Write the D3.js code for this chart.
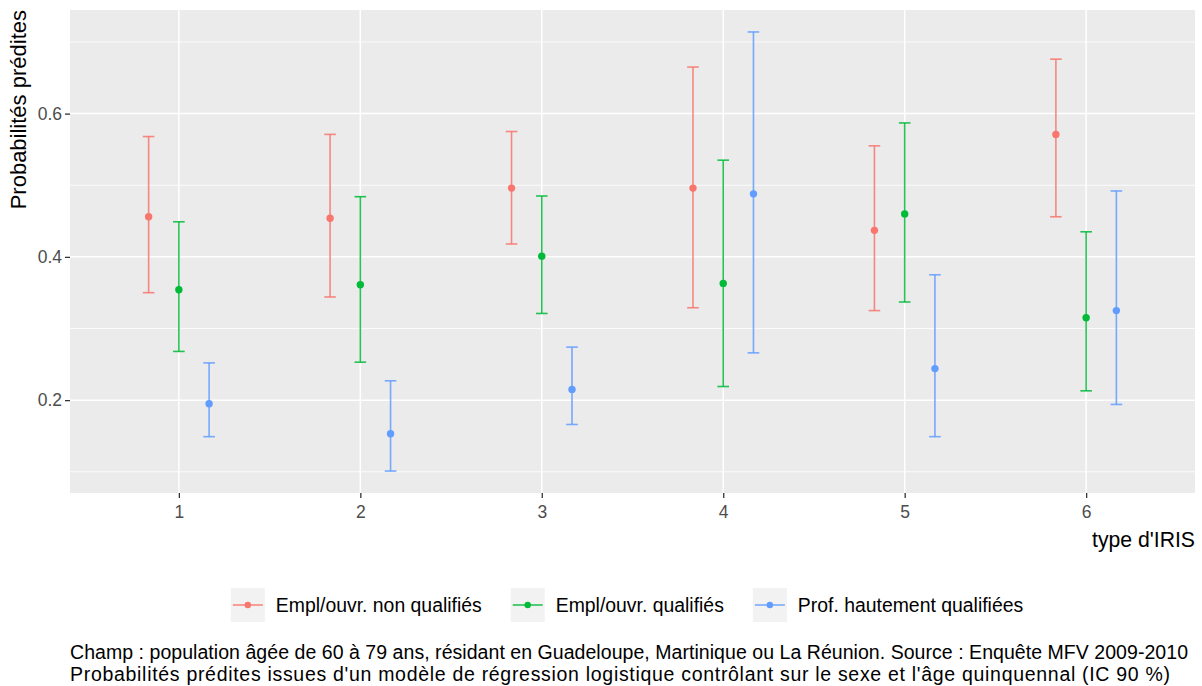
<!DOCTYPE html>
<html>
<head>
<meta charset="utf-8">
<script src="https://cdn.jsdelivr.net/npm/d3@7"></script>
<style>
  html, body { margin: 0; padding: 0; background: #fff; }
  svg { display: block; font-family: "Liberation Sans", Arial, sans-serif; }
</style>
</head>
<body>
<svg id="chart" width="1202" height="686"></svg>
<script>
// ---- data ----
const categories = ["1", "2", "3", "4", "5", "6"];
const groups = ["Empl/ouvr. non qualifiés", "Empl/ouvr. qualifiés", "Prof. hautement qualifiées"];
const colors = ["#F8766D", "#00BA38", "#619CFF"];

const nonQualEst = [0.456, 0.454, 0.496, 0.496, 0.437, 0.571];
const nonQualLo  = [0.350, 0.344, 0.418, 0.329, 0.325, 0.456];
const nonQualHi  = [0.568, 0.571, 0.575, 0.665, 0.555, 0.676];

const qualEst = [0.354, 0.361, 0.401, 0.363, 0.460, 0.315];
const qualLo  = [0.268, 0.253, 0.321, 0.219, 0.337, 0.213];
const qualHi  = [0.449, 0.484, 0.485, 0.535, 0.587, 0.435];

const hautEst = [0.195, 0.153, 0.215, 0.488, 0.244, 0.325];
const hautLo  = [0.149, 0.101, 0.166, 0.266, 0.149, 0.194];
const hautHi  = [0.252, 0.227, 0.274, 0.714, 0.375, 0.492];

const yTicks = [0.2, 0.4, 0.6];
const yMinor = [0.1, 0.3, 0.5, 0.7];
const xTitle = "type d'IRIS";
const yTitle = "Probabilités prédites";
const captionLines = [
  "Champ : population âgée de 60 à 79 ans, résidant en Guadeloupe, Martinique ou La Réunion. Source : Enquête MFV 2009-2010",
  "Probabilités prédites issues d'un modèle de régression logistique contrôlant sur le sexe et l'âge quinquennal (IC 90 %)"
];

const series = [
  { est: nonQualEst, lo: nonQualLo, hi: nonQualHi },
  { est: qualEst, lo: qualLo, hi: qualHi },
  { est: hautEst, lo: hautLo, hi: hautHi }
];

// ---- layout ----
const panel = { left: 70, right: 1195, top: 10, bottom: 493 };
const captionWidths = [1118, 1100];
const svg = d3.select("#chart");

const allVals = series.flatMap(s => s.lo.concat(s.hi));
const yMin = d3.min(allVals), yMax = d3.max(allVals);
const pad = (yMax - yMin) * 0.05;

const x = d3.scaleLinear().domain([0.4, categories.length + 0.6]).range([panel.left, panel.right]);
const y = d3.scaleLinear().domain([yMin - pad, yMax + pad]).range([panel.bottom, panel.top]);

const dodge = 1 / 6;
const capHalf = 0.032;

// panel background
svg.append("rect")
  .attr("x", panel.left).attr("y", panel.top)
  .attr("width", panel.right - panel.left).attr("height", panel.bottom - panel.top)
  .attr("fill", "#EBEBEB");

// minor grid
svg.append("g").selectAll("line").data(yMinor).join("line")
  .attr("x1", panel.left).attr("x2", panel.right)
  .attr("y1", d => y(d)).attr("y2", d => y(d))
  .attr("stroke", "#fff").attr("stroke-width", 0.8);

// major grid
svg.append("g").selectAll("line").data(yTicks).join("line")
  .attr("x1", panel.left).attr("x2", panel.right)
  .attr("y1", d => y(d)).attr("y2", d => y(d))
  .attr("stroke", "#fff").attr("stroke-width", 1.5);
svg.append("g").selectAll("line").data(categories).join("line")
  .attr("x1", (d, i) => x(i + 1)).attr("x2", (d, i) => x(i + 1))
  .attr("y1", panel.top).attr("y2", panel.bottom)
  .attr("stroke", "#fff").attr("stroke-width", 1.5);

// axes
const yAxis = d3.axisLeft(y).tickValues(yTicks).tickFormat(d3.format(".1f")).tickSize(5).tickPadding(3);
const gy = svg.append("g").attr("transform", `translate(${panel.left},0)`).call(yAxis);
const xAxis = d3.axisBottom(x).tickValues(categories.map((c, i) => i + 1))
  .tickFormat((d, i) => categories[i]).tickSize(5).tickPadding(8);
const gx = svg.append("g").attr("transform", `translate(0,${panel.bottom})`).call(xAxis);
[gx, gy].forEach(g => {
  g.select(".domain").remove();
  g.selectAll(".tick line").attr("stroke", "#333333").attr("stroke-width", 1.3);
  g.selectAll(".tick text").attr("fill", "#4D4D4D").attr("font-size", "17.5px")
    .attr("font-family", "'Liberation Sans', Arial, sans-serif");
});

// error bars and points
series.forEach((s, gi) => {
  const off = (gi - 1) * dodge;
  const g = svg.append("g");
  const data = categories.map((c, i) => ({ xi: i + 1 + off, est: s.est[i], lo: s.lo[i], hi: s.hi[i] }));
  g.selectAll(".v").data(data).join("line")
    .attr("x1", d => x(d.xi)).attr("x2", d => x(d.xi))
    .attr("y1", d => y(d.lo)).attr("y2", d => y(d.hi))
    .attr("stroke", colors[gi]).attr("stroke-width", 1.6).attr("stroke-opacity", 0.85);
  ["lo", "hi"].forEach(k => {
    g.selectAll(".c" + k).data(data).join("line")
      .attr("x1", d => x(d.xi - capHalf)).attr("x2", d => x(d.xi + capHalf))
      .attr("y1", d => y(d[k])).attr("y2", d => y(d[k]))
      .attr("stroke", colors[gi]).attr("stroke-width", 1.6).attr("stroke-opacity", 0.85);
  });
  g.selectAll("circle").data(data).join("circle")
    .attr("cx", d => x(d.xi)).attr("cy", d => y(d.est)).attr("r", 3.7)
    .attr("fill", colors[gi]);
});

// axis titles
svg.append("text")
  .attr("x", panel.right).attr("y", 547)
  .attr("text-anchor", "end").attr("font-size", "21.2px").attr("fill", "#000")
  .text(xTitle);
svg.append("text")
  .attr("transform", `translate(25.5,${panel.top}) rotate(-90)`)
  .attr("text-anchor", "end").attr("font-size", "22px").attr("fill", "#000")
  .text(yTitle);

// legend
const keySize = 34, keyGap = 11, itemGap = 29, legendCenter = 627, legendTop = 588;
const lg = svg.append("g");
const tmp = groups.map(gname => {
  const t = lg.append("text").attr("font-size", "19.4px").text(gname);
  const w = t.node().getComputedTextLength();
  t.remove();
  return w;
});
const totalW = d3.sum(tmp) + groups.length * (keySize + keyGap) + (groups.length - 1) * itemGap;
let cx = legendCenter - totalW / 2;
groups.forEach((gname, gi) => {
  lg.append("rect").attr("x", cx).attr("y", legendTop).attr("width", keySize).attr("height", keySize)
    .attr("fill", "#F2F2F2");
  lg.append("line").attr("x1", cx + 2).attr("x2", cx + keySize - 2)
    .attr("y1", legendTop + keySize / 2).attr("y2", legendTop + keySize / 2)
    .attr("stroke", colors[gi]).attr("stroke-width", 1.6).attr("stroke-opacity", 0.85);
  lg.append("circle").attr("cx", cx + keySize / 2).attr("cy", legendTop + keySize / 2).attr("r", 3.2)
    .attr("fill", colors[gi]);
  lg.append("text").attr("x", cx + keySize + keyGap).attr("y", legendTop + keySize / 2)
    .attr("dy", "0.35em").attr("font-size", "19.4px").attr("fill", "#000").text(gname);
  cx += keySize + keyGap + tmp[gi] + itemGap;
});

// caption
svg.append("g").selectAll("text").data(captionLines).join("text")
  .attr("x", panel.left).attr("y", (d, i) => 659 + i * 22)
  .attr("font-size", "19.5px").attr("fill", "#000")
  .attr("textLength", (d, i) => captionWidths[i]).attr("lengthAdjust", "spacing")
  .text(d => d);
</script>
</body>
</html>
